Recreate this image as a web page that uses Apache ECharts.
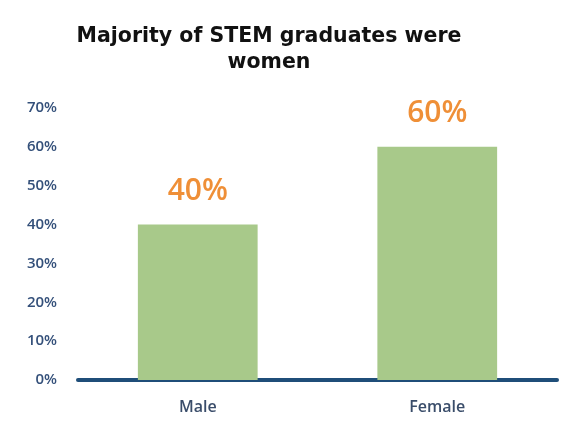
<!DOCTYPE html>
<html><head><meta charset="utf-8">
<script src="https://cdn.jsdelivr.net/npm/echarts@6/dist/echarts.min.js"></script>
<style>html,body{margin:0;padding:0;background:#fff}#c{width:580px;height:430px}</style>
</head><body><div id="c"></div>
<script>
const categories = ['Male', 'Female'];
const values = [40, 60];
const yTicks = [0, 10, 20, 30, 40, 50, 60, 70];

const chart = echarts.init(document.getElementById('c'), null, {renderer: 'canvas'});
chart.setOption({
  backgroundColor: '#ffffff',
  title: {
    text: 'Majority of STEM graduates were\nwomen',
    left: 264, top: 19, textAlign: 'center',
    textStyle: {fontFamily: 'DejaVu Sans', fontWeight: 'bold', fontSize: 20.5, color: '#111', lineHeight: 26}
  },
  grid: {left: 78, right: 23, top: 108, bottom: 50},
  xAxis: {
    type: 'category', data: categories,
    axisLine: {lineStyle: {color: '#1f4e79', width: 4}},
    axisTick: {show: false},
    axisLabel: {color: '#3a4d6a', fontFamily: 'Open Sans', fontWeight: 600, fontSize: 16, margin: 19}
  },
  yAxis: {
    type: 'value', min: 0, max: 70, interval: 10,
    axisLine: {show: false}, axisTick: {show: false},
    splitLine: {show: false},
    axisLabel: {color: '#34507a', fontFamily: 'Open Sans', fontWeight: 600, fontSize: 15, margin: 21,
      formatter: v => yTicks.includes(v) ? v + '%' : ''}
  },
  series: [{
    type: 'bar', data: values, barWidth: '50%',
    itemStyle: {color: '#a8c98a'},
    label: {show: true, position: 'top', distance: 18, formatter: '{c}%',
      color: '#ef8f37', fontFamily: 'Open Sans', fontWeight: 600, fontSize: 30}
  }]
});
</script></body></html>
